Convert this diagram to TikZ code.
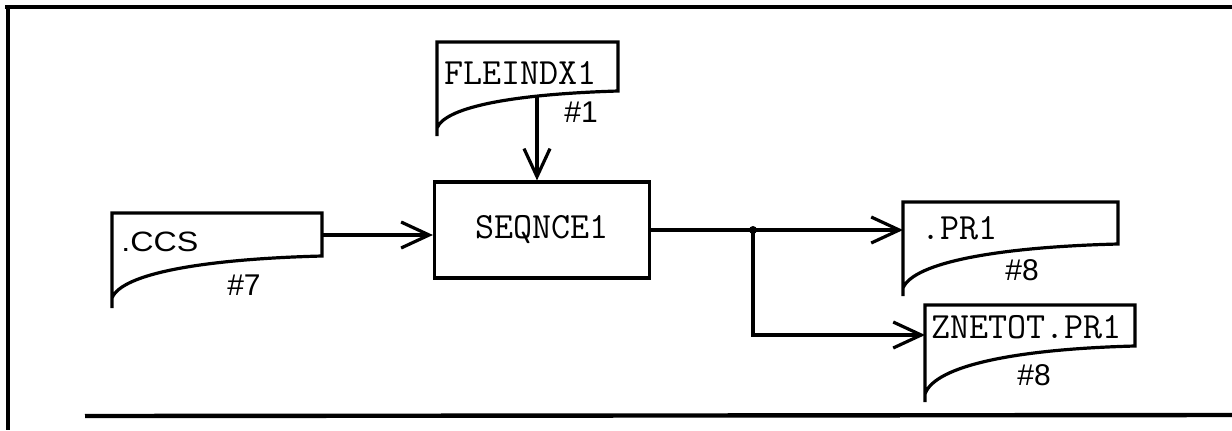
\documentclass[tikz,border=0pt]{standalone}
\usepackage{fontspec}
\setmainfont{Liberation Sans}
\setsansfont{Liberation Sans}
\usetikzlibrary{arrows.meta}
\begin{document}
\begin{tikzpicture}[x=0.5pt,y=-0.5pt,
  frame/.style={line width=2.2pt},
  docline/.style={line width=1.6pt, line join=miter},
  flow/.style={line width=1.6pt, -{Straight Barb[length=14pt,width=13pt,line width=1.6pt]}},
  link/.style={line width=1.6pt},
  mono/.style={font=\fontsize{18.5}{20}\ttfamily, inner sep=0pt, anchor=west},
  wide/.style={font=\fontsize{14}{16}\sffamily, inner sep=0pt, anchor=west},
  num/.style={font=\fontsize{15}{17}\sffamily, inner sep=0pt},
  proc/.style={draw, line width=1.6pt, minimum width=107.5pt, minimum height=48pt,
    inner sep=0pt, font=\fontsize{18.5}{20}\ttfamily}]
\useasboundingbox (0,0) rectangle (1232,430);

% outer frame
\draw[frame] (5,7) -- (1232,7);
\draw[frame] (8,7) -- (8,430);
\draw[frame] (85,416) -- (1232,415);

% document shapes
\draw[docline] (437,136) -- (437,42) -- (618,42) -- (618,91) .. controls (518,94) and (446,106) .. (437,128);
\draw[docline] (112,308) -- (112,213) -- (322,213) -- (322,256) .. controls (206,259) and (122,273) .. (112,298);
\draw[docline] (903,296) -- (903,202) -- (1118,202) -- (1118,244) .. controls (1000,247) and (914,262) .. (903,288);
\draw[docline] (925,402) -- (925,305) -- (1135,305) -- (1135,346) .. controls (1019,349) and (935,365) .. (925,394);

% texts
\node[mono] (tfle) at (444,73) {FLEINDX1};
\node[num] (n1) at (581,112) {\#1};
\node[wide] (tccs) at (121,242) {\scalebox{1.15}[1]{.CCS}};
\node[num] (n7) at (244,285) {\#7};
\node[mono] (tpr1) at (921,228) {.PR1};
\node[num] (n8a) at (1022,270) {\#8};
\node[mono] (tzn) at (931,327) {ZNETOT.PR1};
\node[num] (n8b) at (1034,375) {\#8};

% process
\node[proc] (seq) at (542,230) {SEQNCE1};

% connector points
\coordinate (fleout) at (537,96);
\coordinate (ccsout) at (322,235);
\coordinate (jn) at (753,230);
\coordinate (pr1in) at (903,230);
\coordinate (znin) at (925,335);

\draw[flow] (fleout) -- (fleout |- seq.north);
\draw[flow] (ccsout) -- (ccsout -| seq.west);
\draw[link] (seq.east) -- (jn);
\draw[flow] (jn) -- (pr1in);
\draw[flow] (jn) -- (jn |- znin) -- (znin);
\fill (jn) circle[radius=2pt];
\end{tikzpicture}
\end{document}
